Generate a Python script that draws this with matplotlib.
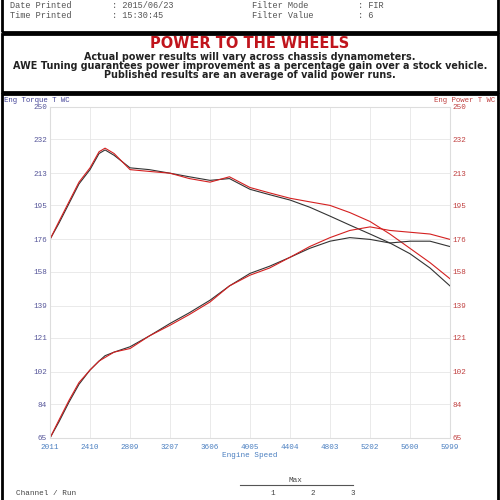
import matplotlib
matplotlib.use("Agg")
import matplotlib.pyplot as plt
from matplotlib.patches import Rectangle
import numpy as np

rpm = [2011, 2100, 2200, 2300, 2410, 2500, 2560, 2650, 2809, 3000, 3207, 3400, 3606, 3800, 4005, 4200, 4404, 4600, 4803, 5000, 5202, 5400, 5600, 5800, 5999]
torque_black = [176, 185, 196, 207, 215, 224, 226, 223, 216, 215, 213, 211, 209, 210, 204, 201, 198, 194, 189, 184, 179, 174, 168, 160, 150]
torque_red   = [176, 186, 197, 208, 216, 225, 227, 224, 215, 214, 213, 210, 208, 211, 205, 202, 199, 197, 195, 191, 186, 179, 171, 163, 154]
power_black  = [65, 74, 85, 95, 103, 108, 111, 113, 116, 122, 129, 135, 142, 150, 157, 161, 166, 171, 175, 177, 176, 174, 175, 175, 172]
power_red    = [65, 75, 86, 96, 103, 108, 110, 113, 115, 122, 128, 134, 141, 150, 156, 160, 166, 172, 177, 181, 183, 181, 180, 179, 176]
yticks = [65, 84, 102, 121, 139, 158, 176, 195, 213, 232, 250]
xticks = [2011, 2410, 2809, 3207, 3606, 4005, 4404, 4803, 5202, 5600, 5999]

mono = "Liberation Mono"
fig = plt.figure(figsize=(5, 5), dpi=100)
fig.patch.set_facecolor("white")

for (y0, h) in [(0.937, 0.07), (0.817, 0.115), (-0.1, 0.912)]:
    fig.patches.append(Rectangle((0.004, y0), 0.992, h, transform=fig.transFigure,
                                 fill=False, lw=2, ec="black"))

tk = dict(family=mono, fontsize=6.2, color="#555555")
fig.text(0.02, 0.984, "Date Printed", **tk)
fig.text(0.02, 0.964, "Time Printed", **tk)
fig.text(0.225, 0.984, ": 2015/06/23", **tk)
fig.text(0.225, 0.964, ": 15:30:45", **tk)
fig.text(0.505, 0.984, "Filter Mode", **tk)
fig.text(0.505, 0.964, "Filter Value", **tk)
fig.text(0.715, 0.984, ": FIR", **tk)
fig.text(0.715, 0.964, ": 6", **tk)

fig.text(0.5, 0.904, "POWER TO THE WHEELS", ha="center", fontsize=10.5, fontweight="bold", color="#c0141c")
sub = dict(ha="center", fontsize=6.9, fontweight="bold", color="#222222")
fig.text(0.5, 0.881, "Actual power results will vary across chassis dynamometers.", **sub)
fig.text(0.5, 0.862, "AWE Tuning guarantees power improvement as a percentage gain over a stock vehicle.", **sub)
fig.text(0.5, 0.843, "Published results are an average of valid power runs.", **sub)

ax = fig.add_axes([0.1, 0.124, 0.8, 0.662])
ax.plot(rpm, torque_black, color="#333333", lw=0.8)
ax.plot(rpm, torque_red, color="#d42020", lw=0.8)
ax.plot(rpm, power_black, color="#333333", lw=0.8)
ax.plot(rpm, power_red, color="#d42020", lw=0.8)
ax.set_xlim(2011, 5999)
ax.set_ylim(65, 250)
ax.set_xticks(xticks)
ax.set_yticks(yticks)
ax.grid(True, color="#e6e6e6", lw=0.6)
ax.tick_params(length=0, labelsize=5.5, pad=2)
ax.tick_params(axis="x", pad=4)
for s in ax.spines.values():
    s.set_color("#dddddd")
ax.set_xticklabels([str(v) for v in xticks], family=mono, color="#4a7fc0")
ax.set_yticklabels([str(v) for v in yticks], family=mono, color="#555599")
ax.set_xlabel("Engine Speed", family=mono, fontsize=5.5, color="#4a7fc0", labelpad=1)
ax2 = ax.twinx()
ax2.set_ylim(65, 250)
ax2.set_yticks(yticks)
ax2.set_yticklabels([str(v) for v in yticks], family=mono, color="#c04040")
ax2.tick_params(length=0, labelsize=5.5, pad=2)
for s in ax2.spines.values():
    s.set_visible(False)
fig.text(0.008, 0.797, "Eng Torque T WC", family=mono, fontsize=5.3, color="#444499")
fig.text(0.99, 0.797, "Eng Power T WC", family=mono, fontsize=5.3, color="#c04040", ha="right")

fig.text(0.59, 0.036, "Max", family=mono, fontsize=5.5, color="#444444", ha="center")
fig.add_artist(plt.Line2D([0.48, 0.705], [0.03, 0.03], color="#555555", lw=0.8))
fig.text(0.033, 0.01, "Channel / Run", family=mono, fontsize=5.5, color="#444444")
for x, t in [(0.545, "1"), (0.625, "2"), (0.705, "3")]:
    fig.text(x, 0.01, t, family=mono, fontsize=5.5, color="#444444", ha="center")

fig.savefig("out.png", dpi=100)
